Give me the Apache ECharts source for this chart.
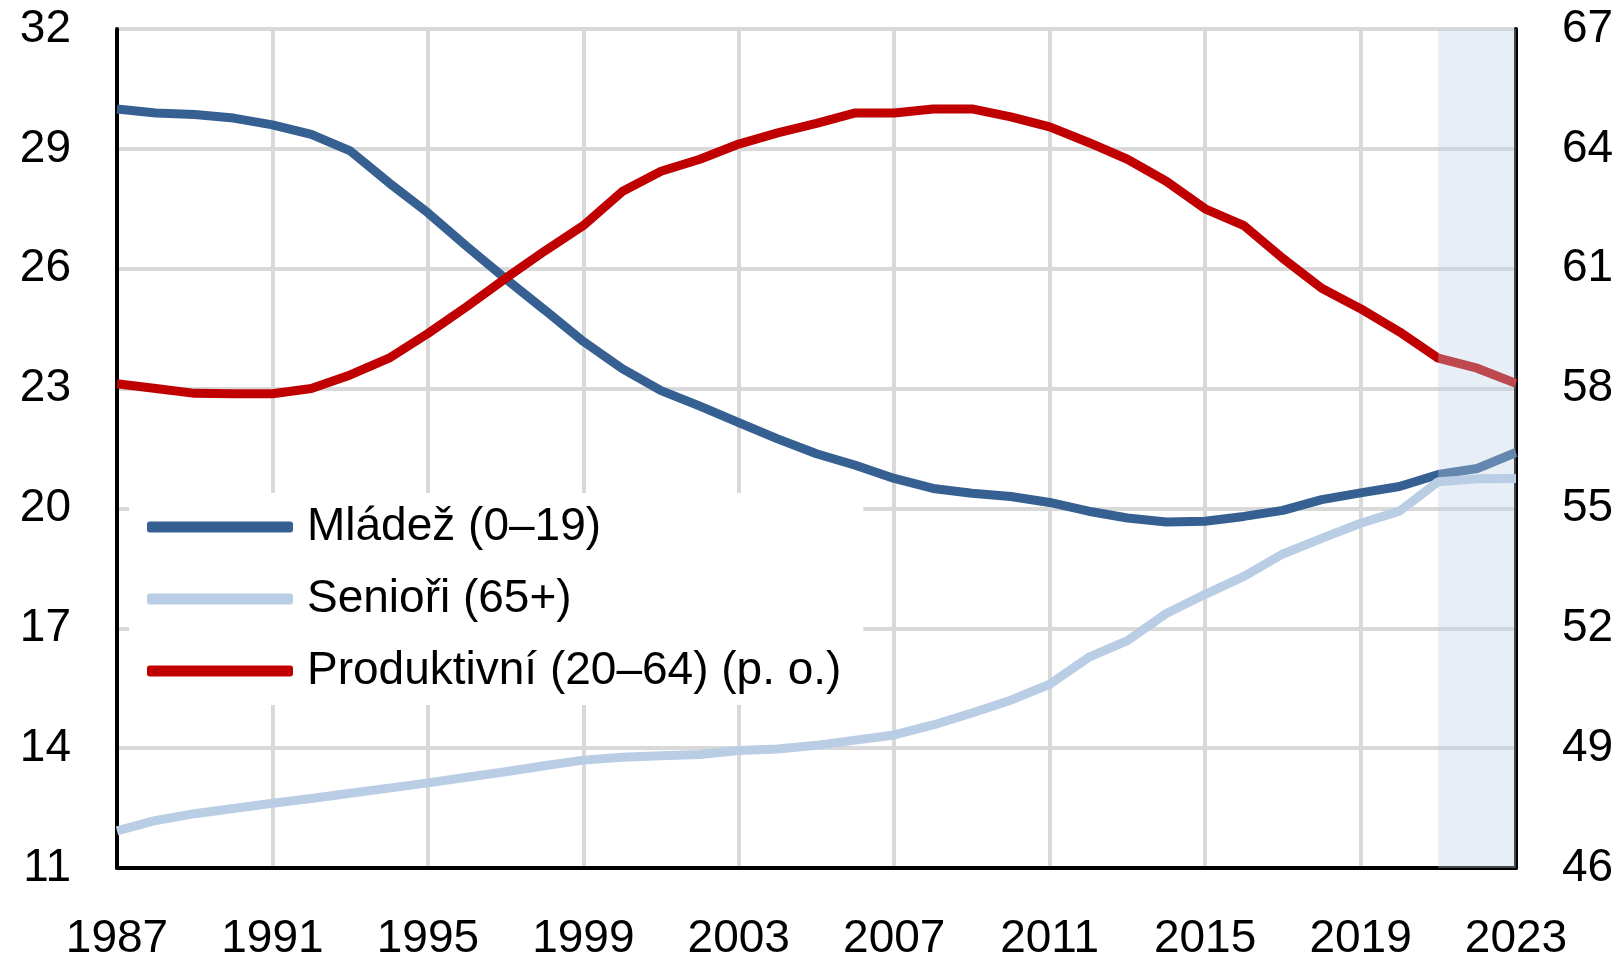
<!DOCTYPE html>
<html>
<head>
<meta charset="utf-8">
<title>Věková struktura</title>
<script src="https://cdn.jsdelivr.net/npm/echarts@6/dist/echarts.min.js"></script>
<style>
  html, body { margin: 0; padding: 0; background: #fff; }
  #chart { width: 1621px; height: 955px; }
</style>
</head>
<body>
<div id="chart"></div>
<script>
// roky 1987-2023, podíly věkových skupin v %
const years = [];
for (let y = 1987; y <= 2023; y++) years.push(y);

const mladez = [30.0, 29.9, 29.86, 29.77, 29.6, 29.36, 28.95, 28.15, 27.4, 26.56, 25.75, 24.97, 24.18,
  23.5, 22.95, 22.56, 22.15, 21.74, 21.37, 21.08, 20.75, 20.5, 20.38, 20.3, 20.15, 19.93,
  19.76, 19.66, 19.68, 19.8, 19.95, 20.22, 20.39, 20.55, 20.85, 21.0, 21.4];

const seniori = [11.93, 12.19, 12.36, 12.49, 12.62, 12.74, 12.87, 13.0, 13.13, 13.27, 13.41, 13.56, 13.7,
  13.77, 13.81, 13.84, 13.94, 13.98, 14.07, 14.2, 14.33, 14.58, 14.88, 15.2, 15.6, 16.27,
  16.69, 17.37, 17.85, 18.3, 18.86, 19.25, 19.63, 19.93, 20.67, 20.74, 20.75];

// pravá osa
const produktivni = [58.12, 58.0, 57.88, 57.87, 57.87, 58.0, 58.34, 58.76, 59.38, 60.05, 60.76, 61.44, 62.08,
  62.93, 63.44, 63.74, 64.12, 64.4, 64.64, 64.9, 64.9, 65.0, 65.0, 64.8, 64.55, 64.16,
  63.74, 63.19, 62.5, 62.08, 61.26, 60.51, 60.0, 59.42, 58.76, 58.51, 58.13];

const prognozaOd = 2021;
const prognozaDo = 2023;

const font = 'Liberation Sans';
const pairs = (vals) => vals.map((v, i) => [years[i], v]);

var chart = echarts.init(document.getElementById('chart'));

chart.setOption({
  animation: false,
  textStyle: { fontFamily: font },
  // popisky osy x smí přetéct dolní okraj, mřížka se nemá zmenšovat
  grid: { left: 117, right: 105, top: 29, bottom: 87, outerBoundsMode: 'none' },
  legend: {
    orient: 'vertical',
    left: 129,
    top: 493,
    backgroundColor: '#fff',
    padding: [11, 22, 11, 18],
    itemWidth: 146,
    itemHeight: 11,
    itemGap: 26,
    icon: 'roundRect',
    textStyle: { fontSize: 46, color: '#000', fontFamily: font, padding: [0, 0, 0, 9] },
    data: ['Mládež (0–19)', 'Senioři (65+)', 'Produktivní (20–64) (p. o.)']
  },
  xAxis: {
    type: 'value',
    min: 1987,
    max: 2023,
    interval: 4,
    axisLine: { show: true, lineStyle: { color: '#000', width: 4 } },
    axisTick: { show: false },
    axisLabel: {
      fontSize: 46, color: '#000', fontFamily: font, margin: 48,
      formatter: (v) => String(v)
    },
    splitLine: { show: true, lineStyle: { color: '#d9d9d9', width: 4 } }
  },
  yAxis: [
    {
      type: 'value',
      min: 11,
      max: 32,
      interval: 3,
      axisLine: { show: true, lineStyle: { color: '#000', width: 4 } },
      axisTick: { show: false },
      axisLabel: { fontSize: 46, color: '#000', fontFamily: font, margin: 46 },
      splitLine: { show: true, lineStyle: { color: '#d9d9d9', width: 4 } }
    },
    {
      type: 'value',
      min: 46,
      max: 67,
      interval: 3,
      position: 'right',
      axisLine: { show: true, lineStyle: { color: '#000', width: 4 } },
      axisTick: { show: false },
      axisLabel: { fontSize: 46, color: '#000', fontFamily: font, margin: 46 },
      splitLine: { show: false }
    }
  ],
  series: [
    {
      name: 'Mládež (0–19)',
      type: 'line',
      yAxisIndex: 0,
      symbol: 'none',
      color: '#376092',
      lineStyle: { width: 9, color: '#376092' },
      data: pairs(mladez)
    },
    {
      name: 'Senioři (65+)',
      type: 'line',
      yAxisIndex: 0,
      symbol: 'none',
      color: '#b9cde5',
      lineStyle: { width: 9, color: '#b9cde5' },
      data: pairs(seniori)
    },
    {
      name: 'Produktivní (20–64) (p. o.)',
      type: 'line',
      yAxisIndex: 1,
      symbol: 'none',
      color: '#c00000',
      lineStyle: { width: 9, color: '#c00000' },
      data: pairs(produktivni),
      // prognóza - poloprůhledné pole přes čáry
      markArea: {
        z: 5,
        silent: true,
        itemStyle: { color: 'rgba(186, 206, 229, 0.35)' },
        data: [[{ xAxis: prognozaOd }, { xAxis: prognozaDo }]]
      }
    }
  ]
});
</script>
</body>
</html>
